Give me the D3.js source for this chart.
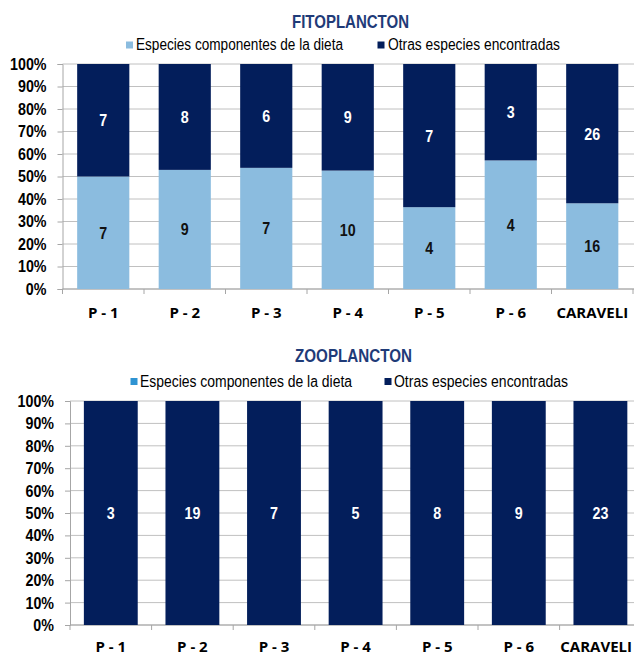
<!DOCTYPE html>
<html><head><meta charset="utf-8">
<script src="https://cdn.jsdelivr.net/npm/d3@7"></script>
<style>
body{margin:0;background:#fff;}
svg{display:block;font-family:"Liberation Sans",Arial,sans-serif;}
</style></head>
<body>
<svg id="c" width="634" height="657"></svg>
<script>
const categories = ["P - 1","P - 2","P - 3","P - 4","P - 5","P - 6","CARAVELI"];
const seriesNames = ["Especies componentes de la dieta","Otras especies encontradas"];
const fitoDieta = [7, 9, 7, 10, 4, 4, 16];
const fitoOtras = [7, 8, 6, 9, 7, 3, 26];
const zooDieta = [0, 0, 0, 0, 0, 0, 0];
const zooOtras = [3, 19, 7, 5, 8, 9, 23];
const yTicks = [0,0.1,0.2,0.3,0.4,0.5,0.6,0.7,0.8,0.9,1.0];

const svg = d3.select("#c");
const darkColor = "#031E5B";

// horizontally condense text around its anchor point
function condense(sel, k){
  sel.each(function(){
    const t = d3.select(this);
    const x = +t.attr("x") || 0, y = +t.attr("y") || 0;
    t.attr("transform", `translate(${x},${y}) scale(${k},1) translate(${-x},${-y})`);
  });
}

function drawChart(cfg){
  const g = svg.append("g");
  const x = d3.scaleBand().domain(categories)
    .range([cfg.x0, cfg.x0 + cfg.band*categories.length])
    .paddingInner(cfg.pi).paddingOuter(cfg.pi/2);
  const y = d3.scaleLinear().domain([0,1]).range([cfg.yBottom, cfg.yTop]);

  // gridlines
  g.selectAll("line.grid").data(yTicks).enter().append("line")
    .attr("x1", cfg.x0).attr("x2", 634).attr("y1", d=>y(d)).attr("y2", d=>y(d))
    .attr("stroke", "#C0C0C0").attr("stroke-width", 1);

  // y axis
  const yAxis = d3.axisLeft(y).tickValues(yTicks).tickFormat(d3.format(".0%")).tickSize(5).tickPadding(11);
  const ya = g.append("g").attr("transform", `translate(${cfg.x0},0)`).call(yAxis);
  ya.attr("font-family", null);
  ya.select(".domain").attr("stroke","#A6A6A6");
  ya.selectAll(".tick line").attr("stroke","#A6A6A6");
  const yl = ya.selectAll("text").style("font-family","'Liberation Sans',Arial,sans-serif")
    .attr("font-size",17).attr("font-weight","bold").attr("fill","#000");
  condense(yl, 0.84);

  // x axis
  const bandEdges = d3.range(categories.length+1).map(i => cfg.x0 + i*cfg.band);
  g.append("line").attr("x1",cfg.x0).attr("x2",634).attr("y1",cfg.yBottom).attr("y2",cfg.yBottom).attr("stroke","#A6A6A6");
  g.selectAll("line.xt").data(bandEdges).enter().append("line")
    .attr("x1",d=>d).attr("x2",d=>d).attr("y1",cfg.yBottom).attr("y2",cfg.yBottom+5).attr("stroke","#A6A6A6");
  g.selectAll("text.cat").data(categories).enter().append("text")
    .attr("x", d=>x(d)+x.bandwidth()/2).attr("y", cfg.yBottom+cfg.catDy)
    .attr("text-anchor","middle").style("font-family","'Open Sans',sans-serif").attr("font-weight","bold")
    .attr("font-size",cfg.catSize).attr("fill","#000").text(d=>d)
    .each(function(){
      // keep label inside the picture on the right
      const w = this.getComputedTextLength();
      const cx = +this.getAttribute("x");
      if (cx + w/2 > 632) this.setAttribute("x", 632 - w/2);
    });

  // bars
  const data = categories.map((c,i)=>{
    const tot = cfg.a[i]+cfg.b[i];
    return {c, a:cfg.a[i], b:cfg.b[i], pa: cfg.a[i]/tot};
  });
  g.selectAll("rect.a").data(data).enter().append("rect")
    .attr("x", d=>x(d.c)).attr("width", x.bandwidth())
    .attr("y", d=>y(d.pa)).attr("height", d=>y(0)-y(d.pa)).attr("fill", cfg.colA);
  g.selectAll("rect.b").data(data).enter().append("rect")
    .attr("x", d=>x(d.c)).attr("width", x.bandwidth())
    .attr("y", y(1)).attr("height", d=>y(d.pa)-y(1)).attr("fill", darkColor);

  // labels
  const la = g.selectAll("text.la").data(data.filter(d=>d.a>0)).enter().append("text")
    .attr("x", d=>x(d.c)+x.bandwidth()/2).attr("y", d=>y(d.pa/2)+6)
    .attr("text-anchor","middle").attr("font-size",17).attr("font-weight","bold").attr("fill","#111").text(d=>d.a);
  condense(la, 0.84);
  const lb = g.selectAll("text.lb").data(data).enter().append("text")
    .attr("x", d=>x(d.c)+x.bandwidth()/2).attr("y", d=>y((1+d.pa)/2)+6)
    .attr("text-anchor","middle").attr("font-size",17).attr("font-weight","bold").attr("fill","#fff").text(d=>d.b);
  condense(lb, 0.84);

  // title
  g.append("text").attr("x",cfg.titleX).attr("y",cfg.titleY)
    .attr("font-size",18.5).attr("font-weight","bold").attr("fill","#1F3B78")
    .attr("textLength",117).attr("lengthAdjust","spacingAndGlyphs").text(cfg.title);

  // legend
  cfg.leg.forEach((L,i)=>{
    const col = i===0 ? cfg.colA : darkColor;
    g.append("rect").attr("x",L.sx).attr("y",cfg.legY-8.5).attr("width",7).attr("height",7).attr("fill",col);
    g.append("text").attr("x",L.tx).attr("y",cfg.legY).attr("font-size",16).attr("fill","#000")
      .attr("textLength",L.w).attr("lengthAdjust","spacingAndGlyphs").text(seriesNames[i]);
  });
}

drawChart({x0:62.5, band:81.5, pi:0.36, yTop:64, yBottom:289, a:fitoDieta, b:fitoOtras, colA:"#8BBCDF",
  catSize:15, catDy:29, title:"FITOPLANCTON", titleX:292, titleY:28, legY:50,
  leg:[{sx:126,tx:136,w:207},{sx:377.5,tx:388,w:172}]});
drawChart({x0:70, band:81.6, pi:0.34, yTop:401, yBottom:625, a:zooDieta, b:zooOtras, colA:"#2E93D2",
  catSize:15, catDy:27, title:"ZOOPLANCTON", titleX:295, titleY:362, legY:386.5,
  leg:[{sx:130.5,tx:140,w:212},{sx:384.5,tx:394,w:174}]});
</script>
</body></html>
